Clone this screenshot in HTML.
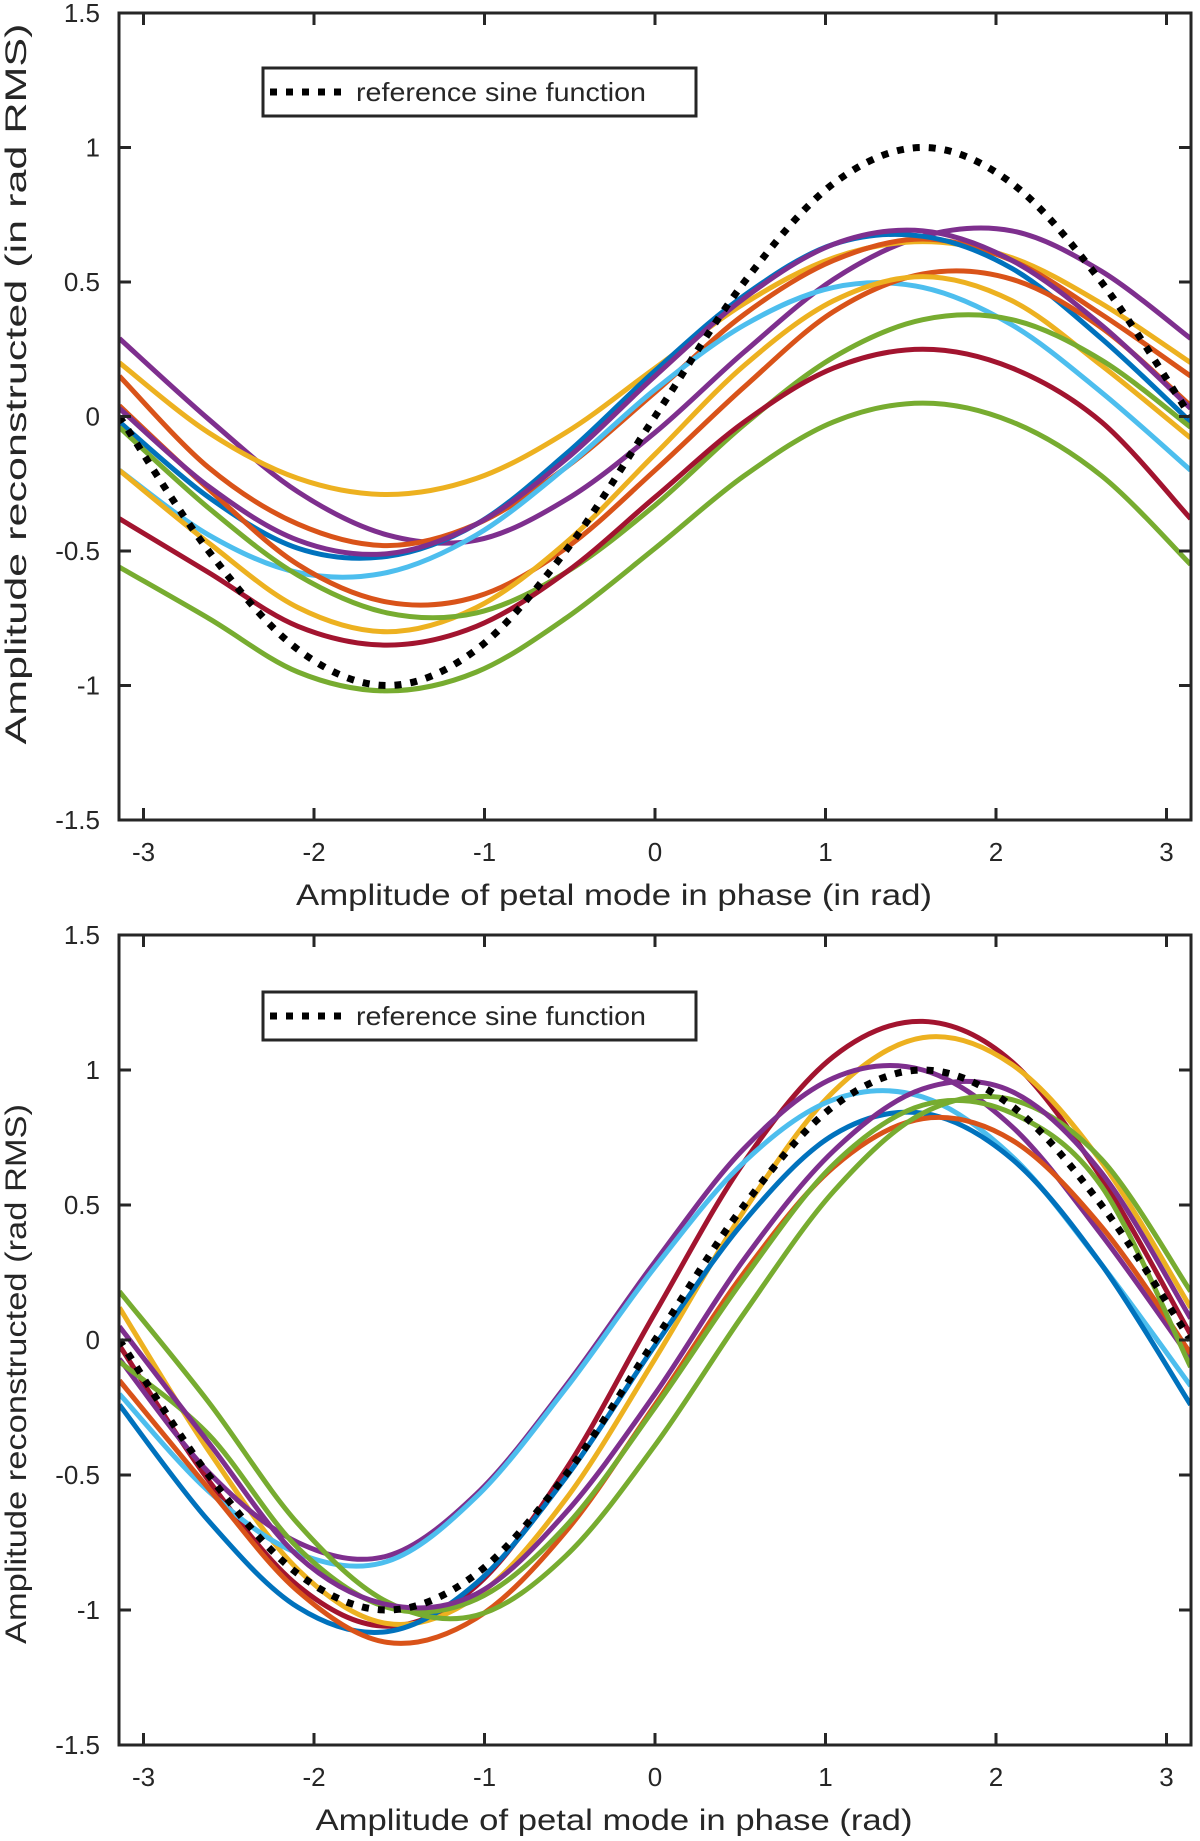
<!DOCTYPE html>
<html><head><meta charset="utf-8"><style>
html,body{margin:0;padding:0;background:#fff;}
svg text{font-family:"Liberation Sans",sans-serif;fill:#262626;}
</style></head><body>
<svg id="chart" width="1200" height="1836" viewBox="0 0 1200 1836" xmlns="http://www.w3.org/2000/svg"></svg>
<script>
const xPts=[-3.1416,-2.618,-2.0944,-1.5708,-1.0472,-0.5236,0,0.5236,1.0472,1.5708,2.0944,2.618,3.1416];
const xTicks=[-3,-2,-1,0,1,2,3];
const yTicks=[-1.5,-1,-0.5,0,0.5,1,1.5];
const yTickLabels=["-1.5","-1","-0.5","0","0.5","1","1.5"];
const refSine=[0,-0.5,-0.866,-1,-0.866,-0.5,0,0.5,0.866,1,0.866,0.5,0];
const topColors=["#7E2F8E","#EDB120","#D95319","#0072BD","#4DBEEE","#D95319","#EDB120","#77AC30","#A2142F","#77AC30","#7E2F8E"];
const topSeries=[
[0.29,-0.01,-0.28,-0.44,-0.46,-0.31,-0.06,0.24,0.51,0.67,0.69,0.54,0.29],
[0.20,-0.06,-0.23,-0.29,-0.23,-0.06,0.18,0.42,0.59,0.65,0.59,0.42,0.20],
[0.15,-0.19,-0.40,-0.48,-0.40,-0.19,0.09,0.38,0.58,0.66,0.58,0.38,0.15],
[-0.02,-0.30,-0.49,-0.52,-0.40,-0.14,0.17,0.45,0.64,0.67,0.55,0.29,-0.02],
[-0.20,-0.44,-0.58,-0.58,-0.44,-0.19,0.10,0.34,0.48,0.48,0.34,0.09,-0.20],
[0.04,-0.27,-0.55,-0.69,-0.67,-0.49,-0.20,0.11,0.39,0.53,0.51,0.33,0.04],
[-0.20,-0.47,-0.71,-0.80,-0.71,-0.47,-0.14,0.19,0.43,0.52,0.43,0.19,-0.08],
[-0.04,-0.34,-0.59,-0.73,-0.73,-0.58,-0.33,-0.03,0.22,0.36,0.36,0.21,-0.04],
[-0.38,-0.58,-0.78,-0.85,-0.78,-0.58,-0.30,-0.02,0.18,0.25,0.18,-0.02,-0.38],
[-0.56,-0.75,-0.95,-1.02,-0.95,-0.75,-0.49,-0.22,-0.02,0.05,-0.02,-0.22,-0.55],
[0.03,-0.26,-0.46,-0.51,-0.40,-0.16,0.15,0.44,0.64,0.69,0.58,0.34,0.03]
];
const botColors=["#A2142F","#EDB120","#7E2F8E","#4DBEEE","#0072BD","#D95319","#77AC30","#77AC30","#7E2F8E"];
const botSeries=[
[-0.02,-0.52,-0.91,-1.06,-0.91,-0.48,0.10,0.66,1.05,1.18,1.03,0.60,0.02],
[0.12,-0.41,-0.85,-1.05,-0.95,-0.59,-0.07,0.48,0.92,1.12,1.02,0.66,0.12],
[-0.07,-0.49,-0.75,-0.80,-0.57,-0.17,0.29,0.71,0.97,1.00,0.79,0.39,-0.07],
[-0.20,-0.56,-0.79,-0.82,-0.58,-0.18,0.27,0.66,0.89,0.90,0.68,0.28,-0.17],
[-0.24,-0.67,-0.99,-1.08,-0.90,-0.51,-0.02,0.44,0.76,0.84,0.67,0.28,-0.24],
[-0.15,-0.55,-0.93,-1.12,-1.03,-0.71,-0.24,0.25,0.64,0.82,0.74,0.42,-0.05],
[0.18,-0.23,-0.68,-0.97,-1.02,-0.80,-0.39,0.10,0.55,0.84,0.89,0.67,0.18],
[-0.08,-0.35,-0.77,-0.99,-0.96,-0.69,-0.25,0.23,0.65,0.87,0.84,0.57,-0.10],
[0.05,-0.38,-0.80,-0.98,-0.94,-0.64,-0.20,0.30,0.70,0.93,0.92,0.62,0.08]
];
const NS="http://www.w3.org/2000/svg";
const svg=document.getElementById('chart');
function mk(tag,attrs,parent){const e=document.createElementNS(NS,tag);for(const k in attrs)e.setAttribute(k,attrs[k]);(parent||svg).appendChild(e);return e;}
const L=119,R=1191;
function X(v){return 655+v*170.5;}
function smooth(pts){let d="M"+pts[0][0].toFixed(1)+","+pts[0][1].toFixed(1);
for(let i=0;i<pts.length-1;i++){const p0=pts[Math.max(0,i-1)],p1=pts[i],p2=pts[i+1],p3=pts[Math.min(pts.length-1,i+2)];
const c1=[p1[0]+(p2[0]-p0[0])/6,p1[1]+(p2[1]-p0[1])/6],c2=[p2[0]-(p3[0]-p1[0])/6,p2[1]-(p3[1]-p1[1])/6];
d+=" C"+c1[0].toFixed(1)+","+c1[1].toFixed(1)+" "+c2[0].toFixed(1)+","+c2[1].toFixed(1)+" "+p2[0].toFixed(1)+","+p2[1].toFixed(1);}
return d;}
function panel(name,T,B,series,colors,xt,xtLen,xtY,yt,ytLen,ytY,legY,tickLabY){
  const Y=v=>(T+B)/2-v*(B-T)/3;
  const g=mk('g',{});
  
  
  const clipId=name+'-clip';
  const cp=mk('clipPath',{id:clipId},g);mk('rect',{x:L,y:T,width:R-L,height:B-T},cp);
  const lines=mk('g',{'clip-path':'url(#'+clipId+')'},g);
  series.forEach((s,i)=>{const p=mk('path',{d:smooth(s.map((v,j)=>[X(xPts[j]),Y(v)])),fill:'none',stroke:colors[i],'stroke-width':5,'stroke-linejoin':'round'},lines);
    
    });
  const rp=mk('path',{d:smooth(refSine.map((v,j)=>[X(xPts[j]),Y(v)])),fill:'none',stroke:'#000','stroke-width':7,'stroke-dasharray':'7 9'},lines);
  
  
  const box=mk('rect',{x:L,y:T,width:R-L,height:B-T,fill:'none',stroke:'#262626','stroke-width':3},g);
  
  
  xTicks.forEach(v=>{mk('line',{x1:X(v),x2:X(v),y1:B,y2:B-12,stroke:'#262626','stroke-width':3},g);mk('line',{x1:X(v),x2:X(v),y1:T,y2:T+12,stroke:'#262626','stroke-width':3},g);
    const t=mk('text',{x:X(v),y:tickLabY,'font-size':26,'text-anchor':'middle'},g);t.textContent=String(v);
    
    });
  yTicks.forEach((v,i)=>{mk('line',{x1:L,x2:L+12,y1:Y(v),y2:Y(v),stroke:'#262626','stroke-width':3},g);mk('line',{x1:R,x2:R-12,y1:Y(v),y2:Y(v),stroke:'#262626','stroke-width':3},g);
    const t=mk('text',{x:100,y:Y(v)+9,'font-size':26,'text-anchor':'end'},g);t.textContent=yTickLabels[i];
    
    });
  const xtl=mk('text',{x:614,y:xtY,'font-size':30,'text-anchor':'middle',textLength:xtLen,lengthAdjust:'spacingAndGlyphs'},g);xtl.textContent=xt;
  
  
  const ytl=mk('text',{x:0,y:0,'font-size':30,'text-anchor':'middle',textLength:ytLen,lengthAdjust:'spacingAndGlyphs',transform:'translate(26,'+ytY+') rotate(-90)'},g);ytl.textContent=yt;
  
  
  const lg=mk('g',{},g);
  
  
  mk('rect',{x:263,y:legY,width:433,height:48,fill:'#fff',stroke:'#262626','stroke-width':3},lg);
  mk('line',{x1:270,x2:348,y1:legY+24,y2:legY+24,stroke:'#000','stroke-width':7,'stroke-dasharray':'7 9'},lg);
  const lt=mk('text',{x:356,y:legY+33,'font-size':26,textLength:290,lengthAdjust:'spacingAndGlyphs',fill:'#000'},lg);lt.textContent='reference sine function';
  
  
}
panel('top-panel',13,820,topSeries,topColors,'Amplitude of petal mode in phase (in rad)',636,905,'Amplitude reconstructed (in rad RMS)',721,384,68,861);
panel('bottom-panel',935,1745,botSeries,botColors,'Amplitude of petal mode in phase (rad)',597,1830,'Amplitude reconstructed (rad RMS)',540,1374,992,1786);
</script>
</body></html>
